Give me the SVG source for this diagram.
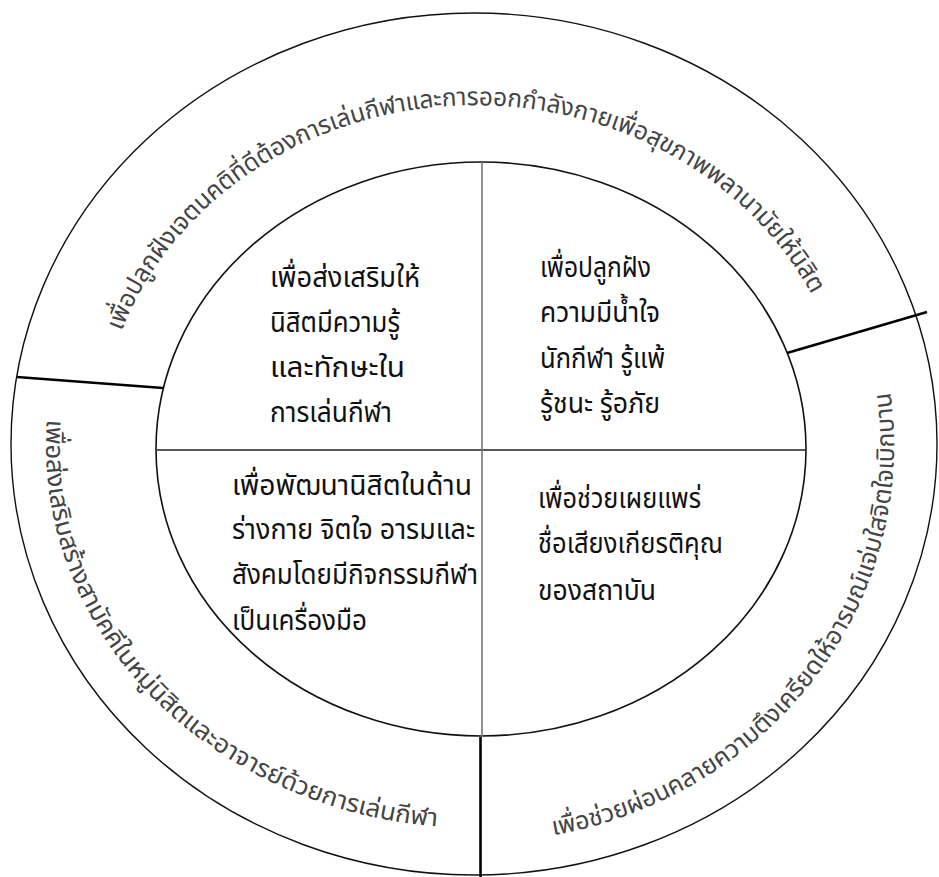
<svg xmlns="http://www.w3.org/2000/svg" width="939" height="877" viewBox="0 0 939 877">
<defs>
<style>
.ring{fill:none;stroke:#111;stroke-width:1.4}
.ringin{fill:none;stroke:#111;stroke-width:1.6}
.sep{stroke:#000;stroke-width:2.6}
.thin{stroke:#777;stroke-width:1.6}
.hline{stroke:#222;stroke-width:1.4}
.inner{font-family:"Noto Sans Thai","Tahoma","Liberation Sans",sans-serif;font-size:28px;fill:#111}
.outer{font-family:"Noto Sans Thai","Tahoma","Liberation Sans",sans-serif;font-size:25px;fill:#444}
</style>
<path id="pTop" d="M 121.6 331.1 A 375 339 0 0 1 815.9 302.7"/>
<path id="pRight" d="M 553.2 835.3 A 418 396 0 0 0 890.3 392.9"/>
<path id="pLeft" d="M 47.0 419.4 A 430 382 0 0 0 434.9 826.3"/>
</defs>
<rect width="939" height="877" fill="#fff"/>
<g id="rings">
<ellipse class="ring" cx="474" cy="444" rx="463" ry="431"/>
<ellipse class="ringin" cx="481" cy="449" rx="325" ry="287"/>
</g>
<g id="connectors">
<line class="hline" x1="157" y1="450" x2="806" y2="450"/>
<line class="thin" x1="482" y1="162" x2="482" y2="737"/>
<line class="sep" x1="480.5" y1="737" x2="480.5" y2="877"/>
<line class="sep" x1="17" y1="377" x2="163" y2="388"/>
<line class="sep" x1="787" y1="353" x2="927" y2="312"/>
</g>
<g id="node-top-left">
<text class="inner" x="270" y="287" textLength="150" lengthAdjust="spacingAndGlyphs">เพื่อส่งเสริมให้</text>
<text class="inner" x="270" y="332" textLength="130" lengthAdjust="spacingAndGlyphs">นิสิตมีความรู้</text>
<text class="inner" x="270" y="377" textLength="135" lengthAdjust="spacingAndGlyphs">และทักษะใน</text>
<text class="inner" x="270" y="422" textLength="122" lengthAdjust="spacingAndGlyphs">การเล่นกีฬา</text>
</g>
<g id="node-top-right">
<text class="inner" x="540" y="277" textLength="111" lengthAdjust="spacingAndGlyphs">เพื่อปลูกฝัง</text>
<text class="inner" x="540" y="322" textLength="120" lengthAdjust="spacingAndGlyphs">ความมีน้ำใจ</text>
<text class="inner" x="540" y="368" textLength="125" lengthAdjust="spacingAndGlyphs">นักกีฬา รู้แพ้</text>
<text class="inner" x="540" y="413" textLength="120" lengthAdjust="spacingAndGlyphs">รู้ชนะ รู้อภัย</text>
</g>
<g id="node-bottom-left">
<text class="inner" x="232" y="495" textLength="240" lengthAdjust="spacingAndGlyphs">เพื่อพัฒนานิสิตในด้าน</text>
<text class="inner" x="232" y="539" textLength="243" lengthAdjust="spacingAndGlyphs">ร่างกาย จิตใจ อารมและ</text>
<text class="inner" x="232" y="584" textLength="246" lengthAdjust="spacingAndGlyphs">สังคมโดยมีกิจกรรมกีฬา</text>
<text class="inner" x="232" y="630" textLength="135" lengthAdjust="spacingAndGlyphs">เป็นเครื่องมือ</text>
</g>
<g id="node-bottom-right">
<text class="inner" x="538" y="508" textLength="163" lengthAdjust="spacingAndGlyphs">เพื่อช่วยเผยแพร่</text>
<text class="inner" x="538" y="553" textLength="185" lengthAdjust="spacingAndGlyphs">ชื่อเสียงเกียรติคุณ</text>
<text class="inner" x="538" y="600" textLength="118" lengthAdjust="spacingAndGlyphs">ของสถาบัน</text>
</g>
<g id="node-outer-top">
<text class="outer"><textPath href="#pTop" textLength="850" lengthAdjust="spacingAndGlyphs">เพื่อปลูกฝังเจตนคติที่ดีต้องการเล่นกีฬาและการออกกำลังกายเพื่อสุขภาพพลานามัยให้นิสิต</textPath></text>
</g>
<g id="node-outer-right">
<text class="outer"><textPath href="#pRight" textLength="616" lengthAdjust="spacingAndGlyphs">เพื่อช่วยผ่อนคลายความตึงเครียดให้อารมณ์แจ่มใสจิตใจเบิกบาน</textPath></text>
</g>
<g id="node-outer-left">
<text class="outer"><textPath href="#pLeft" textLength="626" lengthAdjust="spacingAndGlyphs">เพื่อส่งเสริมสร้างสามัคคีในหมู่นิสิตและอาจารย์ด้วยการเล่นกีฬา</textPath></text>
</g>
</svg>
